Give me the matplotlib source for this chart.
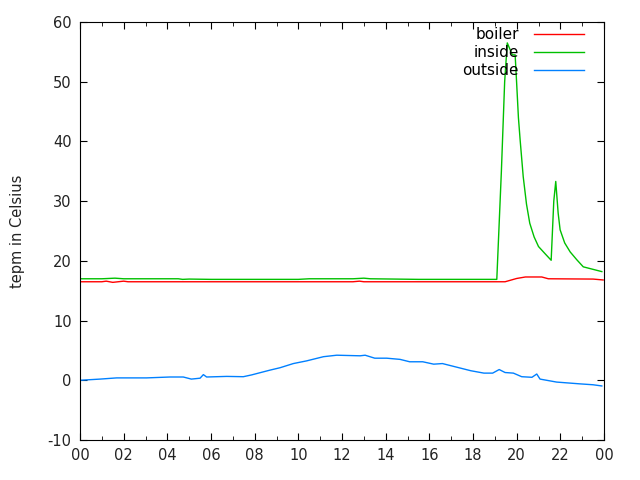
import numpy as np
import matplotlib
matplotlib.use("Agg")
import matplotlib.pyplot as plt
from matplotlib.ticker import MultipleLocator

plt.rcParams["axes.unicode_minus"] = False

# hours of the day
inside_h = [0.0, 1.0, 1.6, 2.0, 4.5, 4.7, 5.0, 6.0, 10.0, 10.5, 12.5, 13.0, 13.3, 15.5,
            19.09, 19.3, 19.45, 19.57, 19.8, 19.93, 20.0, 20.08, 20.16, 20.3, 20.45, 20.6,
            20.8, 21.0, 21.3, 21.58, 21.7, 21.79, 21.9, 21.99, 22.2, 22.45, 22.75, 23.05, 23.9]
inside_t = [17.0, 17.0, 17.1, 17.0, 17.0, 16.9, 16.95, 16.9, 16.9, 17.0, 17.0, 17.1, 17.0, 16.9,
            16.9, 35.0, 50.0, 56.5, 54.5, 54.5, 49.7, 44.0, 40.2, 34.1, 29.5, 26.3,
            24.0, 22.4, 21.2, 20.1, 30.0, 33.3, 28.0, 25.2, 23.0, 21.5, 20.2, 19.0, 18.2]

boiler_h = [0.0, 1.0, 1.2, 1.5, 2.0, 2.2, 2.5, 12.5, 12.8, 13.0, 19.47, 20.0, 20.4, 21.15,
            21.45, 23.5, 23.96]
boiler_t = [16.5, 16.5, 16.6, 16.4, 16.6, 16.5, 16.5, 16.5, 16.6, 16.5, 16.5, 17.05, 17.3, 17.3,
            17.0, 16.95, 16.8]

outside_h = [0.0, 0.92, 1.68, 3.05, 4.12, 4.73, 5.1, 5.5, 5.65, 5.8, 6.72, 7.48, 7.86, 8.7,
             9.16, 9.77, 10.38, 11.15, 11.76, 12.83, 13.06, 13.5, 14.05, 14.66, 15.1, 15.7,
             16.2, 16.6, 17.25, 17.9, 18.5, 18.9, 19.2, 19.47, 19.85, 20.23, 20.7, 20.92,
             21.07, 21.83, 22.9, 23.5, 23.9]
outside_t = [0.0, 0.2, 0.4, 0.4, 0.55, 0.55, 0.2, 0.35, 0.95, 0.55, 0.65, 0.6, 0.9, 1.7,
             2.1, 2.8, 3.25, 3.95, 4.2, 4.1, 4.2, 3.7, 3.7, 3.5, 3.1, 3.1,
             2.7, 2.8, 2.2, 1.6, 1.2, 1.2, 1.8, 1.3, 1.2, 0.6, 0.5, 1.05,
             0.2, -0.3, -0.6, -0.75, -0.95]

xticklabels = ["00", "02", "04", "06", "08", "10", "12", "14", "16", "18", "20", "22", "00"]


def main():
    fig = plt.figure(figsize=(6.4, 4.8), dpi=100)
    ax = fig.add_axes([0.125, 1 - 440 / 480, 0.81875, 418 / 480])

    ax.plot(boiler_h, boiler_t, color="#ff0000", lw=1, label="boiler")
    ax.plot(inside_h, inside_t, color="#00c000", lw=1, label="inside")
    ax.plot(outside_h, outside_t, color="#0080ff", lw=1, label="outside")

    ax.set_xlim(0, 24)
    ax.set_ylim(-10, 60)
    ax.set_xticks(np.arange(0, 25, 2))
    ax.set_xticklabels(xticklabels)
    ax.xaxis.set_minor_locator(MultipleLocator(1))
    ax.yaxis.set_major_locator(MultipleLocator(10))
    ax.tick_params(which="both", direction="in", top=True, right=True,
                   labelsize=10.5, colors="black")
    ax.tick_params(which="major", length=5, pad=6)
    ax.tick_params(which="minor", length=3)
    for lab in ax.get_xticklabels() + ax.get_yticklabels():
        lab.set_color("#222222")

    ax.set_ylabel("tepm in Celsius", fontsize=10.5, labelpad=16, color="#222222")

    ax.legend(loc="upper right", frameon=False, markerfirst=False,
              fontsize=11, handlelength=3.3, handletextpad=1.0,
              labelspacing=0.2, borderaxespad=0.2, bbox_to_anchor=(0.98, 1.01))

    fig.savefig("out.png", dpi=100)


if __name__ == "__main__":
    main()
